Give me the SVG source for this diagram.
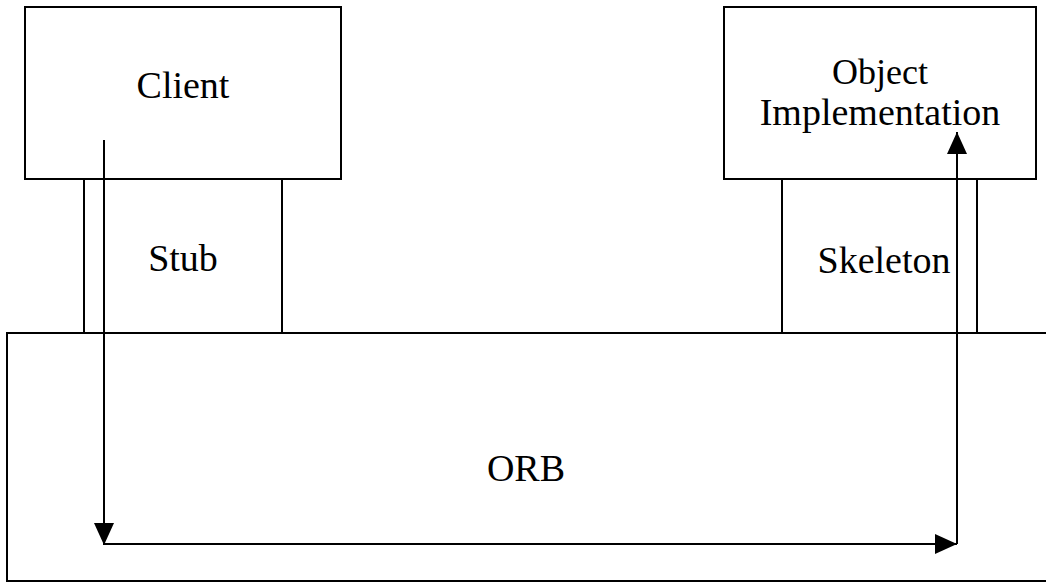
<svg xmlns="http://www.w3.org/2000/svg" width="1046" height="582" viewBox="0 0 1046 582">
<style>
.box{fill:none;stroke:#000;stroke-width:2}
.lbl{font-family:"Liberation Serif","Times New Roman",serif;font-size:38px;fill:#000;text-anchor:middle}
.lbl2{font-size:36px}
.conn{fill:none;stroke:#000;stroke-width:2}
</style>
<defs>
<marker id="ah" markerWidth="22" markerHeight="20" refX="22" refY="10" orient="auto" markerUnits="userSpaceOnUse">
<path d="M0,0 L22,10 L0,20 Z" fill="#000"/>
</marker>
</defs>
<rect width="1046" height="582" fill="#fff"/>
<g id="orb">
<path class="box" d="M1046,333 H7 V581 H1046"/>
<text class="lbl" x="526" y="481">ORB</text>
</g>
<g id="stub">
<path class="box" d="M84,179 V333 M282,179 V333"/>
<text class="lbl" x="183" y="271">Stub</text>
</g>
<g id="skeleton">
<path class="box" d="M782,179 V333 M977,179 V333"/>
<text class="lbl" x="884" y="273">Skeleton</text>
</g>
<g id="client">
<rect class="box" x="25" y="7" width="316" height="172"/>
<text class="lbl" x="183" y="98">Client</text>
</g>
<g id="objimpl">
<rect class="box" x="724" y="7" width="312" height="172"/>
<text class="lbl lbl2" x="880" y="84">Object</text>
<text class="lbl" x="880" y="125">Implementation</text>
</g>
<g id="connectors">
<line class="conn" x1="104" y1="140" x2="104" y2="545" marker-end="url(#ah)"/>
<line class="conn" x1="104" y1="544" x2="957" y2="544" marker-end="url(#ah)"/>
<line class="conn" x1="957" y1="544" x2="957" y2="132" marker-end="url(#ah)"/>
</g>
</svg>
